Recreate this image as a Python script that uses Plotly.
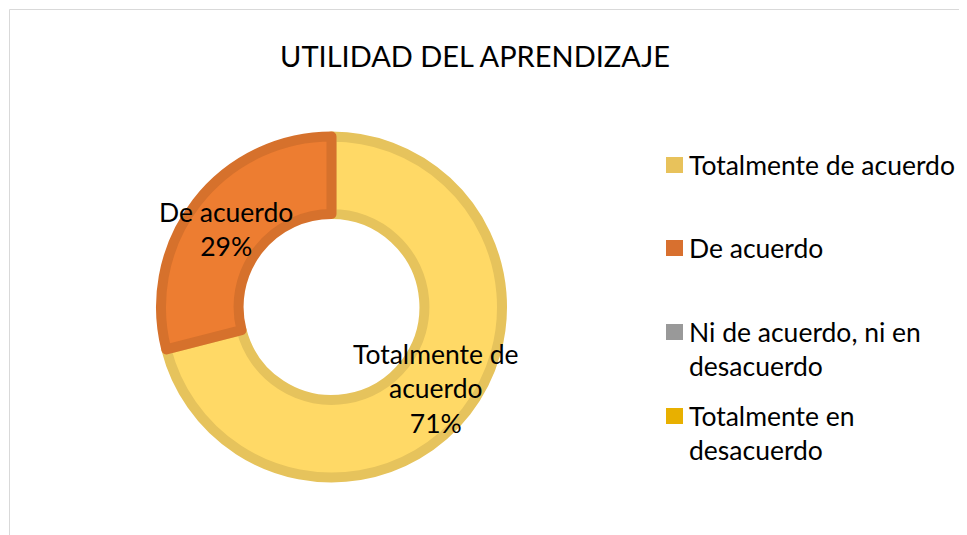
import plotly.graph_objects as go

# ---- data ----
categories = ["Totalmente de acuerdo", "De acuerdo",
              "Ni de acuerdo, ni en desacuerdo", "Totalmente en desacuerdo"]
values = [71, 29, 0, 0]
label_wrapped = ["Totalmente de<br>acuerdo", "De acuerdo",
                 "Ni de acuerdo, ni en<br>desacuerdo", "Totalmente en<br>desacuerdo"]
legend_wrapped = ["Totalmente de acuerdo", "De acuerdo",
                  "Ni de acuerdo, ni en<br>desacuerdo", "Totalmente en<br>desacuerdo"]
title_text = "UTILIDAD DEL APRENDIZAJE"

# ---- styles ----
OFF = 8  # default page body margin
W, H = 967 - OFF, 535 - OFF
FONT = "Lato"
fill_colors = ["#FFD966", "#ED7D31", "#A5A5A5", "#FFC000"]
line_colors = ["#E6C35C", "#D6712C", "#959595", "#E6AD00"]
legend_colors = ["#E8C25B", "#D8702F", "#999999", "#E8B000"]

def px(x):
    return (x - OFF) / W

def py(y):
    return 1 - (y - OFF) / H

cx, cy, r = 331.5, 307, 170.5

fig = go.Figure()
fig.add_trace(go.Pie(
    labels=categories, values=values, hole=0.545, sort=False,
    direction="clockwise", rotation=0,
    marker=dict(colors=fill_colors,
                line=dict(color=line_colors, width=[10 if v > 0 else 0 for v in values])),
    textinfo="none", hoverinfo="label+percent", showlegend=False,
    domain=dict(x=[px(cx - r), px(cx + r)], y=[py(cy + r), py(cy - r)]),
))

total = sum(values)
annotations = []
label_pos = {0: (436, 388), 1: (226, 229)}
for i, (lab, v) in enumerate(zip(label_wrapped, values)):
    if v <= 0:
        continue
    x, y = label_pos[i]
    annotations.append(dict(
        x=px(x), y=py(y), xref="paper", yref="paper", xanchor="center", yanchor="middle",
        text=f"{lab}<br>{round(100 * v / total)}%", showarrow=False,
        font=dict(family=FONT, size=26.5, color="#000000"), align="center"))

# legend (manual)
legend_y = [165, 248, 348.5, 433]
shapes = [dict(type="rect", xref="paper", yref="paper",
               x0=px(9.5), x1=px(1100), y0=py(9.5), y1=py(700),
               line=dict(color="#D9D9D9", width=1), fillcolor="rgba(0,0,0,0)")]
sq_centers = [165, 248, 332, 416]
for name, col, ty, sy in zip(legend_wrapped, legend_colors, legend_y, sq_centers):
    shapes.append(dict(type="rect", xref="paper", yref="paper",
                       x0=px(666), x1=px(683), y0=py(sy + 8), y1=py(sy - 8),
                       line=dict(width=0), fillcolor=col))
    annotations.append(dict(
        x=px(687), y=py(ty), xref="paper", yref="paper", xanchor="left", yanchor="middle",
        text=name, showarrow=False, align="left",
        font=dict(family=FONT, size=26.5, color="#000000")))

fig.update_layout(
    width=W, height=H, margin=dict(l=0, r=0, t=0, b=0),
    paper_bgcolor="white", plot_bgcolor="white",
    title=dict(text=title_text, x=px(475), xref="paper", xanchor="center",
               y=py(57), yref="paper", yanchor="middle",
               font=dict(family=FONT, size=29, color="#000000")),
    annotations=annotations, shapes=shapes,
)

fig.write_html("out.html")
